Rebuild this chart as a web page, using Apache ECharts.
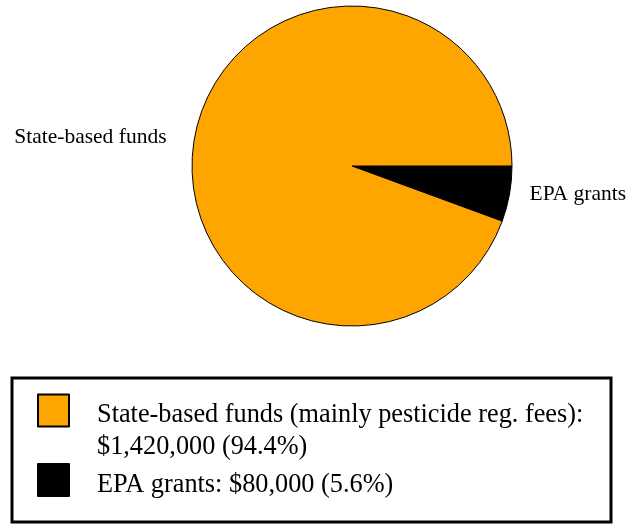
<!DOCTYPE html>
<html>
<head>
<meta charset="utf-8">
<script src="https://cdn.jsdelivr.net/npm/echarts@6/dist/echarts.min.js"></script>
<style>
  html, body { margin: 0; padding: 0; background: #fff; }
  #main { width: 640px; height: 527px; }
</style>
</head>
<body>
<div id="main"></div>
<script>
// slices, listed in drawing order (clockwise from 3 o'clock)
var categories = ['EPA grants', 'State-based funds'];
var amounts = [80000, 1420000];
var shares = [5.6, 94.4];
var colors = ['#000000', '#FFA500'];
var notes = ['', ' (mainly pesticide reg. fees)'];

var serif = '"Liberation Serif", "Times New Roman", serif';

function money(v) {
    return '$' + v.toLocaleString('en-US');
}

// legend text for a category (rich text, a thin spacer line on top)
function legendText(name) {
    var i = categories.indexOf(name);
    var tail = money(amounts[i]) + ' (' + shares[i] + '%)';
    if (notes[i]) {
        return '{g| }\n{p|' + name + notes[i] + ':}\n{p|' + tail + '}';
    }
    return '{g| }\n{p|' + name + ': ' + tail + '}';
}

var chart = echarts.init(document.getElementById('main'));

// outer label distance differs a little per slice
var labelGap = [13, 21];
var pieData = categories.map(function(name, i) {
    return {
        name: name,
        value: shares[i],
        itemStyle: { color: colors[i] },
        labelLine: { length2: labelGap[i] }
    };
});

function makeLegend(name, top, gap) {
    return {
        data: [name],
        left: 37,
        top: top,
        orient: 'vertical',
        padding: 0,
        icon: 'rect',
        itemWidth: 31,
        itemHeight: 32,
        selectedMode: false,
        formatter: legendText,
        textStyle: {
            fontFamily: serif,
            fontSize: 26.3,
            color: '#000',
            padding: [0, 0, 0, 23],
            rich: {
                g: { fontSize: 1, lineHeight: gap },
                p: { fontFamily: serif, fontSize: 26.3, lineHeight: 32, color: '#000' }
            }
        }
    };
}

var option = {
    backgroundColor: '#fff',
    animation: false,
    legend: [
        makeLegend('State-based funds', 378, 42),
        makeLegend('EPA grants', 463, 10)
    ],
    graphic: [{
        type: 'rect',
        shape: { x: 12, y: 378, width: 599, height: 144 },
        style: { fill: 'none', stroke: '#000', lineWidth: 3 },
        z: 0
    }],
    series: [{
        type: 'pie',
        center: [352, 166],
        radius: 160,
        startAngle: 0,
        clockwise: true,
        data: pieData,
        itemStyle: { borderColor: '#000', borderWidth: 1 },
        label: {
            show: true,
            position: 'outside',
            fontFamily: serif,
            fontSize: 21.5,
            color: '#000',
            formatter: '{b}'
        },
        labelLine: { show: false, length: 2, length2: 16 },
        emphasis: { disabled: true }
    }]
};

chart.setOption(option);
</script>
</body>
</html>
